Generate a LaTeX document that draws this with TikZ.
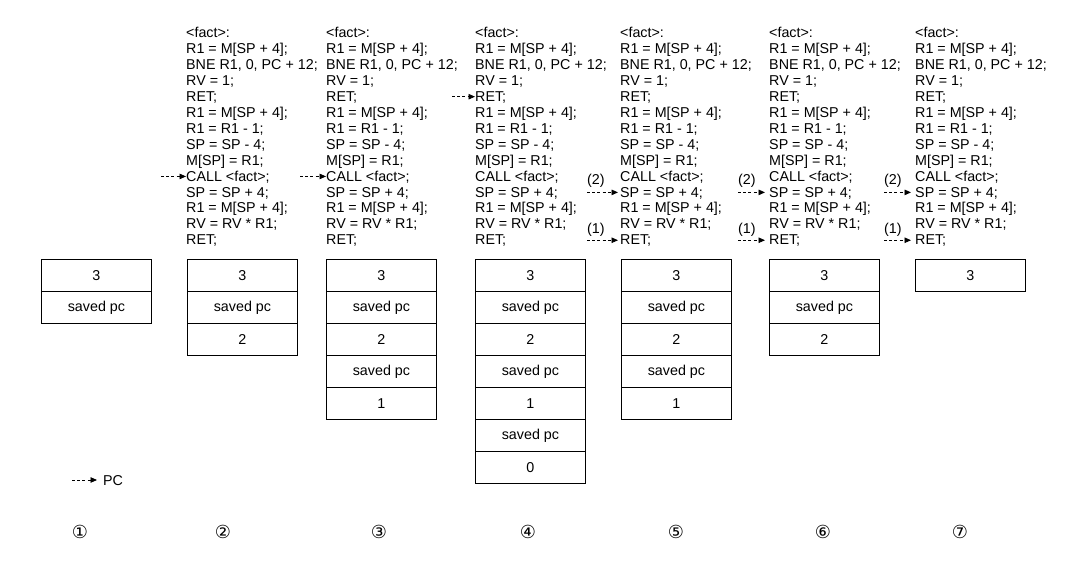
\documentclass[tikz,border=0pt]{standalone}
\usepackage{fontspec}
\setmainfont{Liberation Sans}
\newfontfamily\symfont{DejaVu Sans}
\usetikzlibrary{arrows.meta}

% one column of the factorial routine, one node per line
\newcommand\codecol[2]{%
  \foreach \t [count=\i from 0] in {{<fact>:},{R1 = M[SP + 4];},{BNE R1, 0, PC + 12;},{RV = 1;},{RET;},%
      {R1 = M[SP + 4];},{R1 = R1 - 1;},{SP = SP - 4;},{M[SP] = R1;},{CALL <fact>;},%
      {SP = SP + 4;},{R1 = M[SP + 4];},{RV = RV * R1;},{RET;}}
    \node[code] (#1-\i) at (#2, 37.5+15.95*\i) {\t};%
}
% a stack of cells growing downwards from the top row
\newcommand\stackcol[3]{%
  \foreach \t [count=\i from 0] in {#3}
    \node[cell] (#1-\i) at (#2, 259+32*\i) {\t};%
}

\begin{document}
\begin{tikzpicture}[x=1pt,y=-1pt,
  txt/.style={inner sep=0pt, font=\fontsize{14.3}{16}\selectfont},
  code/.style={txt, anchor=base west},
  cell/.style={txt, draw, line width=0.9pt, anchor=north west,
               minimum width=110pt, minimum height=32pt},
  pcarrow/.style={line width=0.9pt, dash pattern=on 3pt off 2.2pt,
                  -{Triangle[length=6.5pt,width=5.5pt]}},
  circ/.style={inner sep=0pt, font=\symfont\fontsize{18}{20}\selectfont}]
\useasboundingbox (0,0) rectangle (1075,564);

% code listings
\codecol{c2}{186}
\codecol{c3}{326}
\codecol{c4}{475}
\codecol{c5}{620}
\codecol{c6}{769}
\codecol{c7}{915}

% stacks
\stackcol{s1}{41}{3,saved pc}
\stackcol{s2}{187}{3,saved pc,2}
\stackcol{s3}{326}{3,saved pc,2,saved pc,1}
\stackcol{s4}{475}{3,saved pc,2,saved pc,1,saved pc,0}
\stackcol{s5}{621}{3,saved pc,2,saved pc,1}
\stackcol{s6}{769}{3,saved pc,2}
\stackcol{s7}{915}{3}

% program counter marks
\draw[pcarrow] ([xshift=-25pt,yshift=4.6pt]c2-9.base west) -- ([xshift=0pt,yshift=4.6pt]c2-9.base west);
\draw[pcarrow] ([xshift=-26pt,yshift=4.6pt]c3-9.base west) -- ([xshift=0pt,yshift=4.6pt]c3-9.base west);
\draw[pcarrow] ([xshift=-23pt,yshift=4.6pt]c4-4.base west) -- ([xshift=0pt,yshift=4.6pt]c4-4.base west);

\draw[pcarrow] ([xshift=-33pt,yshift=4.6pt]c5-10.base west) -- ([xshift=-2pt,yshift=4.6pt]c5-10.base west);
\draw[pcarrow] ([xshift=-33pt,yshift=4.6pt]c5-13.base west) -- ([xshift=-2pt,yshift=4.6pt]c5-13.base west);
\draw[pcarrow] ([xshift=-31pt,yshift=4.6pt]c6-10.base west) -- ([xshift=-4pt,yshift=4.6pt]c6-10.base west);
\draw[pcarrow] ([xshift=-31pt,yshift=4.6pt]c6-13.base west) -- ([xshift=-4pt,yshift=4.6pt]c6-13.base west);
\draw[pcarrow] ([xshift=-31pt,yshift=4.6pt]c7-10.base west) -- ([xshift=-4pt,yshift=4.6pt]c7-10.base west);
\draw[pcarrow] ([xshift=-31pt,yshift=4.6pt]c7-13.base west) -- ([xshift=-4pt,yshift=4.6pt]c7-13.base west);

% return order labels
\node[code] (r5b) at (587,185) {(2)};
\node[code] (r5a) at (587,233) {(1)};
\node[code] (r6b) at (738,185) {(2)};
\node[code] (r6a) at (738,233) {(1)};
\node[code] (r7b) at (884,185) {(2)};
\node[code] (r7a) at (884,233) {(1)};

% legend
\coordinate (lg) at (72,480);
\node[txt, anchor=west] (pc) at (103,480.5) {PC};
\draw[pcarrow] (lg) -- ([xshift=-6pt]pc.west |- lg);

% step numbers
\node[circ] (n1) at (80,532) {①};
\node[circ] (n2) at (223,532) {②};
\node[circ] (n3) at (379,532) {③};
\node[circ] (n4) at (528,532) {④};
\node[circ] (n5) at (676,532) {⑤};
\node[circ] (n6) at (823,532) {⑥};
\node[circ] (n7) at (960,532) {⑦};
\end{tikzpicture}
\end{document}
